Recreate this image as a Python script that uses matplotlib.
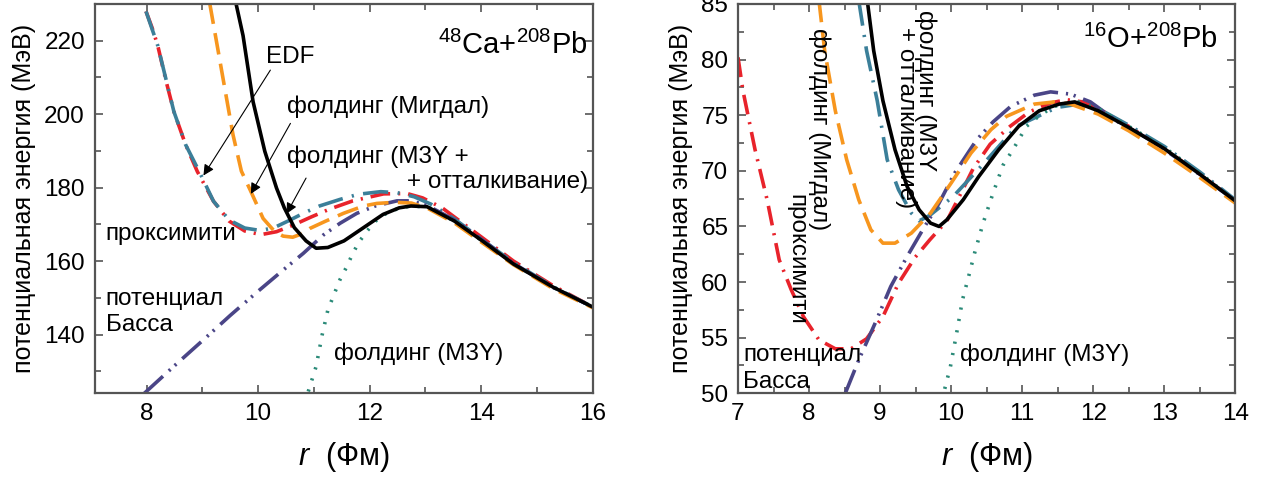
import matplotlib
matplotlib.use("Agg")
import matplotlib.pyplot as plt
from matplotlib.ticker import MultipleLocator

plt.rcParams['font.family'] = ['Liberation Sans', 'DejaVu Sans']
plt.rcParams['mathtext.fontset'] = 'custom'
plt.rcParams['mathtext.rm'] = 'Liberation Sans'
plt.rcParams['mathtext.it'] = 'Liberation Sans:italic'

# ---------------- 48Ca + 208Pb ----------------
ca_fold_rep_r = [9.60, 9.73, 9.91, 10.12, 10.33, 10.47, 10.65, 10.86, 11.04, 11.25, 11.54,
                 11.89, 12.24, 12.53, 12.74, 13.03, 13.52, 14.02, 14.58, 15.29, 16.0]
ca_fold_rep_v = [230.4, 221.4, 203.4, 189.9, 179.9, 174.5, 169.1, 165.5, 163.5, 163.7, 165.5,
                 169.1, 172.7, 174.5, 175.0, 174.8, 170.9, 165.5, 159.2, 152.9, 147.5]

ca_prox_r = [7.99, 8.10, 8.20, 8.35, 8.49, 8.70, 8.91, 9.20, 9.48, 9.76, 10.05, 10.33, 10.63,
             10.95, 11.29, 11.70, 12.25, 12.67, 12.95, 13.30, 13.52, 14.0, 14.58, 15.29, 16.0]
ca_prox_v = [228.0, 223.5, 218.7, 209.0, 200.7, 191.7, 184.4, 176.3, 170.9, 168.2, 167.2, 168.0,
             169.8, 172.0, 174.2, 176.4, 178.3, 178.4, 177.2, 174.5, 172.0, 166.6, 160.0, 153.3, 147.5]

ca_edf_r = [7.99, 8.20, 8.49, 8.70, 8.96, 9.20, 9.48, 9.76, 10.05, 10.30, 10.55, 10.81, 11.10,
            11.47, 11.80, 12.20, 12.50, 12.80, 13.10, 13.52, 14.0, 14.58, 15.29, 16.0]
ca_edf_v = [228.0, 218.7, 200.7, 191.7, 183.9, 176.3, 171.2, 169.0, 168.3, 169.2, 171.0, 173.0,
            175.0, 176.8, 178.2, 178.9, 178.6, 177.5, 175.5, 171.5, 166.0, 159.6, 153.0, 147.5]

ca_migdal_r = [9.13, 9.34, 9.55, 9.70, 9.86, 10.09, 10.30, 10.45, 10.62, 10.80, 10.93, 11.20,
               11.53, 11.89, 12.13, 12.45, 12.75, 13.05, 13.52, 14.0, 14.58, 15.29, 16.0]
ca_migdal_v = [230.4, 212.4, 194.4, 184.5, 179.3, 171.6, 168.0, 166.8, 166.5, 167.5, 168.9, 170.8,
               173.0, 175.0, 175.7, 176.0, 175.8, 174.3, 170.4, 165.2, 159.0, 152.5, 147.3]

ca_bass_r = [7.96, 8.50, 9.00, 9.50, 10.00, 10.50, 10.81, 11.17, 11.47, 11.77, 12.10, 12.49,
             12.75, 13.05, 13.52, 14.0, 14.58, 15.29, 16.0]
ca_bass_v = [124.0, 131.5, 138.3, 145.2, 151.8, 158.2, 162.1, 167.1, 170.3, 173.0, 175.0, 176.4,
             176.4, 175.0, 171.2, 166.0, 159.4, 152.8, 147.5]

ca_m3y_r = [10.90, 11.04, 11.15, 11.25, 11.35, 11.47, 11.59, 11.68, 11.80, 11.96, 12.10, 12.24,
            12.37, 12.55, 12.75, 13.05, 13.52, 14.0, 14.58, 15.29, 16.0]
ca_m3y_v = [124.5, 131.3, 140.0, 146.6, 150.5, 155.0, 158.5, 161.5, 165.0, 168.3, 170.8, 172.5,
            173.5, 174.5, 175.0, 174.7, 170.9, 165.7, 159.2, 152.9, 147.5]

# ---------------- 16O + 208Pb ----------------
o_fold_rep_r = [8.82, 8.91, 9.04, 9.21, 9.38, 9.55, 9.71, 9.83, 9.94, 10.17, 10.39, 10.67,
                10.95, 11.24, 11.52, 11.74, 12.07, 12.5, 13.0, 13.5, 14.0]
o_fold_rep_v = [85.3, 80.8, 76.3, 71.9, 68.6, 66.5, 65.3, 65.0, 65.6, 67.4, 69.5, 71.9,
                74.0, 75.4, 76.0, 76.2, 75.4, 73.9, 72.0, 69.7, 67.3]

o_prox_r = [7.0, 7.07, 7.24, 7.41, 7.58, 7.75, 7.92, 8.14, 8.37, 8.59, 8.81, 9.04, 9.26, 9.49,
            9.70, 9.94, 10.10, 10.31, 10.55, 10.83, 11.10, 11.40, 11.62, 11.85, 12.1, 12.5,
            13.0, 13.5, 14.0]
o_prox_v = [80.2, 77.2, 71.9, 67.4, 62.0, 59.3, 56.9, 54.8, 54.0, 54.0, 54.9, 56.9, 59.9, 62.2,
            63.8, 65.5, 67.5, 70.2, 72.4, 74.0, 75.3, 76.1, 76.4, 76.2, 75.5, 74.0,
            72.0, 69.7, 67.3]

o_edf_r = [8.70, 8.81, 8.96, 9.10, 9.26, 9.44, 9.55, 9.70, 10.03, 10.45, 10.92, 11.49, 11.80,
           12.1, 12.5, 13.0, 13.5, 14.0]
o_edf_v = [85.3, 80.8, 76.3, 71.0, 68.3, 66.2, 65.5, 66.0, 67.7, 70.6, 74.0, 75.7, 76.0,
           75.5, 74.1, 72.2, 69.9, 67.4]

o_migdal_r = [8.14, 8.22, 8.37, 8.53, 8.70, 8.87, 9.04, 9.21, 9.44, 9.71, 10.0, 10.28, 10.56,
              10.78, 11.17, 11.46, 11.68, 12.07, 12.5, 13.0, 13.5, 14.0]
o_migdal_v = [85.3, 80.8, 75.4, 71.0, 67.4, 64.7, 63.5, 63.5, 64.4, 66.2, 68.9, 71.6, 73.7,
              74.9, 76.0, 76.2, 76.0, 75.1, 73.6, 71.6, 69.4, 67.1]

o_bass_r = [8.51, 8.70, 8.93, 9.15, 9.38, 9.60, 9.83, 10.05, 10.36, 10.59, 10.84, 11.17, 11.40,
            11.68, 11.96, 12.35, 12.8, 13.3, 14.0]
o_bass_v = [50.0, 53.0, 56.3, 59.6, 62.3, 64.7, 67.1, 69.8, 72.8, 74.4, 75.8, 76.8, 77.1,
            76.9, 76.2, 74.4, 72.8, 70.6, 67.3]

o_m3y_r = [9.91, 9.99, 10.08, 10.16, 10.25, 10.33, 10.45, 10.59, 10.73, 10.87, 11.06, 11.25,
           11.45, 11.79, 12.1, 12.5, 13.0, 13.5, 14.0]
o_m3y_v = [50.4, 52.4, 55.5, 58.4, 60.6, 62.6, 65.3, 68.0, 70.5, 71.9, 74.0, 75.0,
           75.8, 76.2, 75.5, 74.0, 72.1, 69.8, 67.3]

# line styles for the six potentials
RED = '#e8232b'
ORANGE = '#f7961e'
TEAL = '#3b7f99'
PURPLE = '#4a4587'
GREEN = '#2a8a78'
LW = 2.6

styles = {
    'prox':   dict(color=RED, lw=LW, dashes=(5.5, 2.2, 0.6, 2.2)),
    'edf':    dict(color=TEAL, lw=LW, dashes=(7, 2.6, 0.6, 2.6)),
    'migdal': dict(color=ORANGE, lw=LW, dashes=(6, 2.6)),
    'bass':   dict(color=PURPLE, lw=LW, dashes=(7, 2.2, 0.6, 1.6, 0.6, 2.2)),
    'm3y':    dict(color=GREEN, lw=LW, dashes=(0.6, 2.6)),
    'rep':    dict(color='black', lw=LW),
}

fig = plt.figure(figsize=(12.87, 4.79), dpi=100)
ax1 = fig.add_axes([94.7 / 1287, 1 - 393.3 / 479, 498 / 1287, 389.3 / 479])
ax2 = fig.add_axes([738 / 1287, 1 - 393.3 / 479, 497.3 / 1287, 389.3 / 479])

SP = '#555555'
for ax in (ax1, ax2):
    for s in ax.spines.values():
        s.set_color(SP)
        s.set_linewidth(1.6)
    ax.tick_params(which='both', direction='in', top=True, right=True, color=SP,
                   labelsize=17.5, width=1.2)
    ax.tick_params(which='major', length=6, pad=7)
    ax.tick_params(which='minor', length=4)
    ax.set_ylabel('потенциальная энергия (МэВ)', fontsize=18, labelpad=6)
    ax.set_xlabel(r'$r$  (Фм)', fontsize=22, labelpad=11)

# left panel
ax1.plot(ca_prox_r, ca_prox_v, **styles['prox'])
ax1.plot(ca_edf_r, ca_edf_v, **styles['edf'])
ax1.plot(ca_bass_r, ca_bass_v, **styles['bass'])
ax1.plot(ca_m3y_r, ca_m3y_v, **styles['m3y'])
ax1.plot(ca_migdal_r, ca_migdal_v, **styles['migdal'])
ax1.plot(ca_fold_rep_r, ca_fold_rep_v, **styles['rep'])
ax1.set_xlim(7.07, 16)
ax1.set_ylim(124, 230)
ax1.xaxis.set_major_locator(MultipleLocator(2))
ax1.xaxis.set_minor_locator(MultipleLocator(1))
ax1.yaxis.set_major_locator(MultipleLocator(20))
ax1.yaxis.set_minor_locator(MultipleLocator(10))

TF = 17.5
ax1.text(15.9, 218.8, r'$^{48}$Ca+$^{208}$Pb', fontsize=21, ha='right', va='center')
ax1.text(10.15, 215.5, 'EDF', fontsize=TF, ha='left', va='center')
ax1.text(10.51, 202.0, 'фолдинг (Мигдал)', fontsize=TF, ha='left', va='center')
ax1.text(10.51, 188.3, 'фолдинг (М3Y +', fontsize=TF, ha='left', va='center')
ax1.text(15.92, 181.5, '+ отталкивание)', fontsize=TF, ha='right', va='center')
ax1.text(7.27, 167.3, 'проксимити', fontsize=TF, ha='left', va='center')
ax1.text(7.27, 149.6, 'потенциал', fontsize=TF, ha='left', va='center')
ax1.text(7.27, 142.6, 'Басса', fontsize=TF, ha='left', va='center')
ax1.text(11.36, 134.8, 'фолдинг (М3Y)', fontsize=TF, ha='left', va='center')

arrow = dict(arrowstyle='-|>', color='black', lw=0.8, mutation_scale=16, shrinkA=0, shrinkB=0)
ax1.annotate('', xy=(9.02, 183.3), xytext=(10.22, 212.0), arrowprops=arrow)
ax1.annotate('', xy=(9.87, 178.3), xytext=(10.58, 197.5), arrowprops=arrow)
ax1.annotate('', xy=(10.51, 172.9), xytext=(10.86, 182.6), arrowprops=arrow)

# right panel
ax2.plot(o_prox_r, o_prox_v, **styles['prox'])
ax2.plot(o_edf_r, o_edf_v, **styles['edf'])
ax2.plot(o_bass_r, o_bass_v, **styles['bass'])
ax2.plot(o_m3y_r, o_m3y_v, **styles['m3y'])
ax2.plot(o_migdal_r, o_migdal_v, **styles['migdal'])
ax2.plot(o_fold_rep_r, o_fold_rep_v, **styles['rep'])
ax2.set_xlim(7, 14)
ax2.set_ylim(50, 85)
ax2.xaxis.set_major_locator(MultipleLocator(1))
ax2.xaxis.set_minor_locator(MultipleLocator(0.5))
ax2.yaxis.set_major_locator(MultipleLocator(5))
ax2.yaxis.set_minor_locator(MultipleLocator(2.5))

ax2.text(13.76, 81.8, r'$^{16}$O+$^{208}$Pb', fontsize=21, ha='right', va='center')
ax2.text(8.15, 73.8, 'фолдинг (Мигдал)', fontsize=TF, rotation=-90, ha='center', va='center')
ax2.text(7.82, 62.0, 'проксимити', fontsize=TF, rotation=-90, ha='center', va='center')
ax2.text(9.64, 77.2, 'фолдинг (М3Y', fontsize=TF, rotation=-90, ha='center', va='center')
ax2.text(9.36, 74.8, '+ отталкивание)', fontsize=TF, rotation=-90, ha='center', va='center')
ax2.text(7.07, 53.4, 'потенциал', fontsize=TF, ha='left', va='center')
ax2.text(7.07, 51.0, 'Басса', fontsize=TF, ha='left', va='center')
ax2.text(10.13, 53.5, 'фолдинг (М3Y)', fontsize=TF, ha='left', va='center')

fig.savefig('out.png', dpi=100)
